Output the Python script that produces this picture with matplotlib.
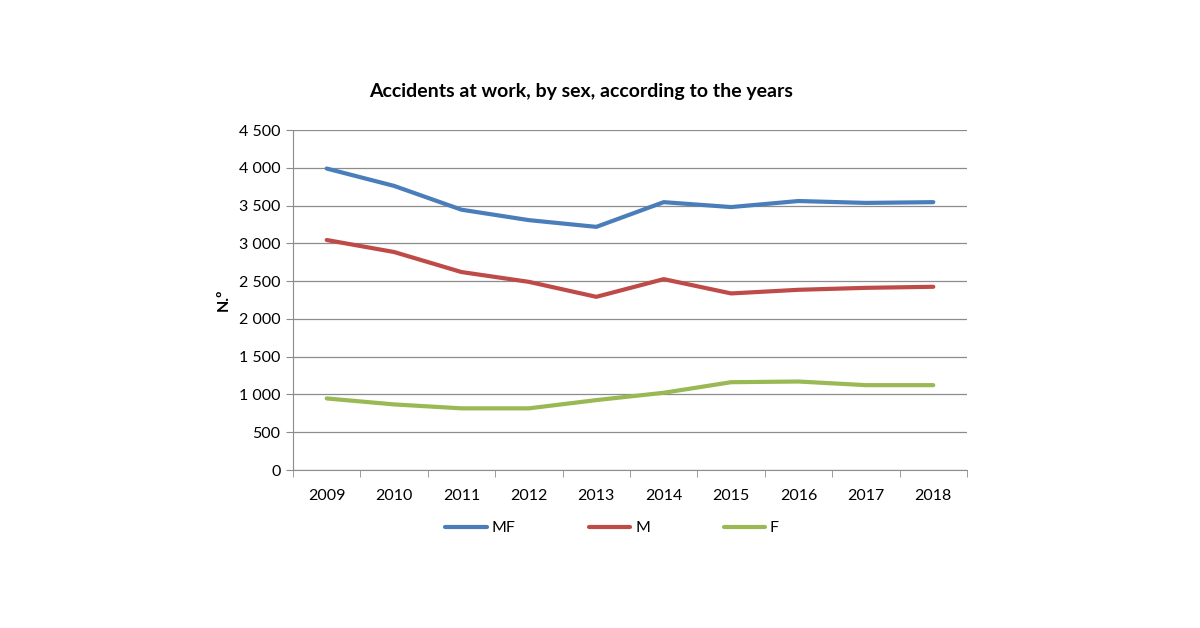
import numpy as np
import matplotlib.pyplot as plt
from matplotlib.ticker import FuncFormatter, FixedLocator

plt.rcParams['font.family'] = ['Lato', 'DejaVu Sans']

years = ['2009', '2010', '2011', '2012', '2013', '2014', '2015', '2016', '2017', '2018']
mf = [3990, 3760, 3445, 3307, 3218, 3545, 3480, 3560, 3535, 3545]
m = [3044, 2885, 2620, 2490, 2292, 2526, 2337, 2385, 2411, 2425]
f = [947, 868, 816, 816, 925, 1022, 1162, 1171, 1123, 1123]

fig = plt.figure(figsize=(12, 6.28), dpi=100)
ax = fig.add_axes([293/1200, 158/628, 674/1200, 340/628])

x = np.arange(len(years))
ax.plot(x, mf, color='#4A7EBB', lw=3, label='MF', solid_capstyle='round')
ax.plot(x, m, color='#BE4B48', lw=3, label='M', solid_capstyle='round')
ax.plot(x, f, color='#98B954', lw=3, label='F', solid_capstyle='round')

ax.set_xlim(-0.5, len(years) - 0.5)
ax.set_ylim(0, 4500)
ax.set_yticks(np.arange(0, 4501, 500))
ax.yaxis.set_major_formatter(FuncFormatter(lambda v, p: f'{int(v):,}'.replace(',', ' ')))
ax.grid(axis='y', color='#8c8c8c', lw=0.9)
ax.set_axisbelow(True)

ax.set_xticks(x)
ax.set_xticklabels(years)
ax.xaxis.set_minor_locator(FixedLocator(np.arange(-0.5, len(years), 1)))
ax.tick_params(axis='x', which='major', length=0, pad=14, labelsize=11.5)
ax.tick_params(axis='x', which='minor', length=5, color='#8c8c8c')
ax.tick_params(axis='y', length=5, color='#8c8c8c', labelsize=11.5, pad=4)

for s in ['top', 'right']:
    ax.spines[s].set_visible(False)
ax.spines['left'].set_color('#8c8c8c')
ax.spines['bottom'].set_color('#8c8c8c')

ax.set_ylabel('N.º', fontweight='bold', fontsize=11.5, labelpad=6)
fig.suptitle('Accidents at work, by sex, according to the years',
             x=581/1200, y=1 - 92/628, va='center', fontsize=14, fontweight='bold')

fig.legend(loc='center', bbox_to_anchor=(612/1200, 1 - 528/628), ncol=3, frameon=False,
           fontsize=11.5, handlelength=2.6, handletextpad=0.3, columnspacing=4.6)

fig.savefig('out.png', dpi=100)
